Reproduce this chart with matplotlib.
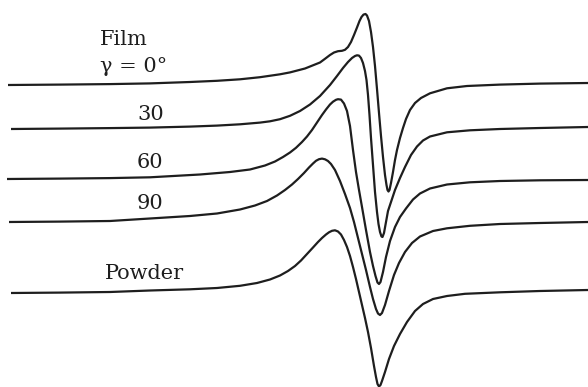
"""Stacked derivative spectra: film at several angles and powder."""
import matplotlib
matplotlib.use("Agg")
import matplotlib.pyplot as plt

# field position (arb. units) and signal
# (signal axis runs downward, as in the scanned figure)
film0_x = [8, 60, 110, 150, 190, 217, 240, 260, 280, 290, 305, 320, 325, 330, 334,
           338, 342, 345, 348, 351, 354, 357, 359.5, 361.5, 363.5, 365.5, 367, 369,
           371, 373, 375, 377, 379, 381, 383, 385, 386.5, 387.5, 388.5, 389.5, 391,
           393, 395, 397, 400, 403, 406, 410, 415, 421, 430, 447, 467, 500, 540, 588]
film0_y = [85, 84.6, 84.1, 83.4, 82, 80.8, 79.3, 77.2, 74.3, 72.4, 68.5, 62.5, 58.8,
           55, 52.5, 51.2, 50.8, 49.8, 47, 42, 35, 27.5, 21, 17, 14.6, 14, 15.5, 21,
           32, 47, 66, 89, 113, 136, 157, 175, 185, 190, 191.5, 190, 183,
           172, 160, 150, 138, 128, 119, 110, 103, 98, 93.3, 88.3, 86, 84.6, 83.6, 83]

film30_x = [11, 60, 110, 150, 190, 217, 240, 260, 270, 280, 290, 300, 310, 320, 330,
            337, 343, 348, 352, 355, 357, 359, 361, 363, 365, 366.5, 368, 369.5, 371,
            373, 375, 377, 378.5, 380, 381.5, 382.5, 384, 386, 388, 391, 395, 400,
            405, 411, 417, 423, 430, 447, 470, 500, 540, 588]
film30_y = [129, 128.6, 128.1, 127.6, 126.6, 125.6, 124.3, 122.6, 121.3, 119.2, 115.8,
            111, 104.5, 96, 85, 76, 68, 62, 58, 56, 55.3, 55.6, 58, 63, 71, 80, 95,
            115, 138, 165, 192, 212, 224, 232, 236.5, 237, 233, 222, 211, 202, 190,
            178, 167, 155, 146.5, 140.5, 136.5, 132.3, 130.3, 129, 128, 127]

film60_x = [7, 60, 110, 150, 200, 230, 250, 265, 275, 283, 290, 296, 302, 307, 312,
            317, 322, 326, 330, 333, 336, 338, 341, 344, 347, 350, 353, 356, 359,
            362, 366, 370, 373, 375.5, 377.5, 379, 380.5, 383, 386, 390, 395, 400,
            406, 413, 420, 430, 447, 470, 500, 540, 588]
film60_y = [179, 178.6, 178.1, 177.3, 174.5, 172, 169.5, 165.5, 161.5, 157, 152.5,
            147.8, 142, 136.5, 130, 122.5, 115, 109.5, 104.5, 101.7, 99.8, 99.2,
            99.6, 103.5, 111, 126, 150, 172, 190, 207, 230, 252, 266, 276, 282.5,
            284, 282, 272, 257, 241, 227, 217, 208.5, 199.5, 193.5, 188.5, 184.5,
            182.3, 181, 180.3, 180]

film90_x = [9, 60, 110, 150, 190, 217, 240, 255, 267, 277, 285, 292, 298, 304, 309,
            313, 316, 319, 322, 325, 328, 331, 335, 340, 345, 350, 354, 358, 362,
            366, 370, 373, 376, 378, 380, 382, 385, 389, 394, 399, 405, 412, 420,
            433, 447, 470, 500, 540, 588]
film90_y = [222, 221.6, 221, 218.5, 216, 213.5, 209.5, 205.5, 201, 195.5, 190, 184.5,
            179, 173, 167.5, 163.5, 160.8, 159.2, 158.6, 159.3, 161, 164, 170, 181,
            194, 208, 222, 238, 254, 270, 287, 299, 309, 313.5, 315, 313, 305, 291,
            275, 263, 252, 243, 236.5, 231, 228.3, 225.8, 224, 223, 222]

powder_x = [11, 60, 110, 150, 190, 217, 240, 257, 270, 280, 288, 295, 301, 307, 313,
            318, 322, 326, 329, 332, 335, 338, 341, 344, 347, 350, 353, 356, 359,
            362, 365, 368, 371, 374, 376, 377.5, 379, 380.5, 382, 385, 389, 394,
            400, 407, 415, 423, 433, 447, 465, 500, 540, 588]
powder_y = [293, 292.6, 292, 290.5, 289.3, 288, 285.8, 283, 279.5, 275.5, 271, 266,
            260.5, 254, 247.5, 242, 238, 234.5, 232.3, 230.8, 230.3, 231.5, 234.5,
            240, 247, 256, 267, 279, 292, 305, 318, 332, 348, 366, 377, 384, 386.5,
            385, 381, 372, 359, 346, 334, 322, 311, 304, 299, 296, 293.8, 292.3,
            291, 290]

traces = [(film0_x, film0_y), (film30_x, film30_y), (film60_x, film60_y),
          (film90_x, film90_y), (powder_x, powder_y)]

fig = plt.figure(figsize=(5.88, 3.87), dpi=100)
ax = fig.add_axes([0, 0, 1, 1])

for x, y in traces:
    ax.plot(x, y, color="#1e1e1e", lw=1.6, solid_joinstyle="round",
            solid_capstyle="butt")

label_kw = dict(family="DejaVu Serif", fontsize=15, color="#1e1e1e",
                va="baseline")
ax.text(100, 45, "Film", **label_kw)
ax.text(100, 72, "\u03b3 = 0\u00b0", **label_kw)
ax.text(137, 120, "30", **label_kw)
ax.text(137, 168, "60", **label_kw)
ax.text(137, 209, "90", **label_kw)
ax.text(105, 279, "Powder", **label_kw)

ax.set_xlim(0, 588)
ax.set_ylim(387, 0)
ax.axis("off")

fig.savefig("out.png", dpi=100)
